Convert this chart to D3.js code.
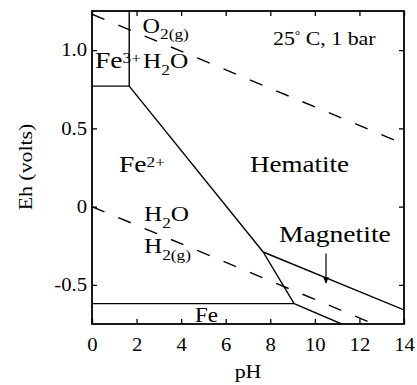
<!DOCTYPE html>
<html>
<head>
<meta charset="utf-8">
<script src="https://cdn.jsdelivr.net/npm/d3@7"></script>
<style>
  body { margin: 0; background: #fff; }
  text { font-family: "Liberation Serif", "Times New Roman", serif; fill: #000; }
</style>
</head>
<body>
<div id="chart"></div>
<script>
// stability boundaries, [pH, Eh]
var o2Water   = [[0, 1.23], [14, 0.40]];
var waterH2   = [[0, 0], [14, -0.83]];
var fe3Fe2    = [[0, 0.77], [1.67, 0.77]];
var fe3Hem    = [[1.67, 0.77], [1.67, 1.25]];
var fe2Hem    = [[1.67, 0.77], [7.68, -0.29]];
var fe2Mag    = [[7.68, -0.29], [9.07, -0.62]];
var hemMag    = [[7.68, -0.29], [14, -0.66]];
var feFe2     = [[0, -0.62], [9.07, -0.62]];
var feMag     = [[9.07, -0.62], [11.2, -0.75]];
var magArrow  = [[10.5, -0.30], [10.5, -0.49]];

var xTicks = [0, 2, 4, 6, 8, 10, 12, 14];
var yTicks = [-0.5, 0, 0.5, 1.0];
var yTickLabels = ["-0.5", "0", "0.5", "1.0"];

var W = 417, H = 385;
var margin = {top: 11, right: 13, bottom: 61, left: 92};
var width = W - margin.left - margin.right,
    height = H - margin.top - margin.bottom;
var stretch = 1.15; // glyphs in the picture are a bit wide

var x = d3.scaleLinear().domain([0, 14]).range([0, width]);
var y = d3.scaleLinear().domain([-0.75, 1.25]).range([height, 0]);

var svg = d3.select("#chart").append("svg")
  .attr("width", W).attr("height", H);
svg.append("rect").attr("width", W).attr("height", H).attr("fill", "#fff");

var defs = svg.append("defs");
defs.append("clipPath").attr("id", "plotclip")
  .append("rect").attr("width", width).attr("height", height);
defs.append("marker")
  .attr("id", "arrowhead")
  .attr("viewBox", "0 0 10 10")
  .attr("refX", 10).attr("refY", 5)
  .attr("markerWidth", 7).attr("markerHeight", 6)
  .attr("markerUnits", "userSpaceOnUse")
  .attr("orient", "auto")
  .append("path").attr("d", "M0,0L10,5L0,10z").attr("fill", "#000");

var main = svg.append("g")
  .attr("transform", "translate(" + margin.left + "," + margin.top + ")");

// axes, ticks pointing inward on all four sides
var xAxis = d3.axisBottom(x).tickValues(xTicks).tickSizeInner(-5).tickSizeOuter(0).tickPadding(14);
var yAxis = d3.axisLeft(y).tickValues(yTicks).tickSizeInner(-5).tickSizeOuter(0).tickPadding(5)
  .tickFormat(function(d, i) { return yTickLabels[i]; });

var gx = main.append("g").attr("transform", "translate(0," + height + ")").call(xAxis);
var gy = main.append("g").call(yAxis);
main.append("g").call(d3.axisTop(x).tickValues(xTicks).tickSizeInner(-5).tickSizeOuter(0).tickFormat(""));
main.append("g").attr("transform", "translate(" + width + ",0)")
  .call(d3.axisRight(y).tickValues(yTicks).tickSizeInner(-5).tickSizeOuter(0).tickFormat(""));

main.selectAll(".domain").remove();
main.selectAll(".tick line").attr("stroke", "#000").attr("stroke-width", 1.3);
main.selectAll(".tick text")
  .attr("font-family", "Liberation Serif, serif")
  .attr("font-size", 18).attr("fill", "#000");
gx.selectAll(".tick text").attr("transform", "scale(" + stretch + ",1)");
gy.selectAll(".tick text").attr("x", -5 / stretch).attr("transform", "scale(" + stretch + ",1)");

// the lines
var line = d3.line()
  .x(function(d) { return x(d[0]); })
  .y(function(d) { return y(d[1]); });

var lines = main.append("g").attr("clip-path", "url(#plotclip)");

// water stability limits, dashed
[o2Water, waterH2].forEach(function(seg) {
  lines.append("path").datum(seg)
    .attr("d", line).attr("fill", "none")
    .attr("stroke", "#000").attr("stroke-width", 1.4)
    .attr("stroke-dasharray", "13.5,15");
});

[fe3Fe2, fe3Hem, fe2Hem, fe2Mag, hemMag, feFe2, feMag].forEach(function(seg) {
  lines.append("path").datum(seg)
    .attr("d", line).attr("fill", "none")
    .attr("stroke", "#000").attr("stroke-width", 1.4);
});

main.append("path").datum(magArrow)
  .attr("d", line).attr("fill", "none")
  .attr("stroke", "#000").attr("stroke-width", 1.2)
  .attr("marker-end", "url(#arrowhead)");

// frame
main.append("rect")
  .attr("width", width).attr("height", height)
  .attr("fill", "none").attr("stroke", "#000").attr("stroke-width", 1.8);

// labels: parts are [text, size, dy]
function label(px, py, size, parts) {
  var t = main.append("text")
    .attr("transform", "translate(" + x(px) + "," + y(py) + ") scale(" + stretch + ",1)")
    .attr("font-size", size);
  parts.forEach(function(p) {
    var s = t.append("tspan").text(p[0]);
    if (p[1]) s.attr("font-size", p[1]);
    if (p[2]) s.attr("dy", p[2]);
  });
  return t;
}

label(2.27, 1.108, 21, [["O"], ["2(g)", 15, 6]]);
label(0.13, 0.885, 24, [["Fe"], ["3+", 15, -5]]);
label(2.29, 0.885, 22, [["H"], ["2", 15, 7], ["O", null, -7]]);
label(1.21, 0.22, 24, [["Fe"], ["2+", 15, -5]]);
label(7.09, 0.22, 23.5, [["Hematite"]]);
label(8.12, 1.03, 19, [["25"], ["°", 12, -6], [" C, 1 bar", null, 6]]);
label(2.33, -0.092, 22, [["H"], ["2", 15, 7], ["O", null, -7]]);
label(2.33, -0.296, 22, [["H"], ["2(g)", 15, 7]]);
label(8.39, -0.224, 24, [["Magnetite"]]);
label(4.62, -0.738, 20, [["Fe"]]);

// axis titles
svg.append("text")
  .attr("text-anchor", "middle")
  .attr("transform", "translate(" + (margin.left + width / 2) + ",378) scale(" + stretch + ",1)")
  .attr("font-size", 19)
  .text("pH");

svg.append("text")
  .attr("text-anchor", "middle")
  .attr("transform", "translate(32,167) rotate(-90) scale(" + stretch + ",1)")
  .attr("font-size", 19)
  .text("Eh (volts)");
</script>
</body>
</html>
